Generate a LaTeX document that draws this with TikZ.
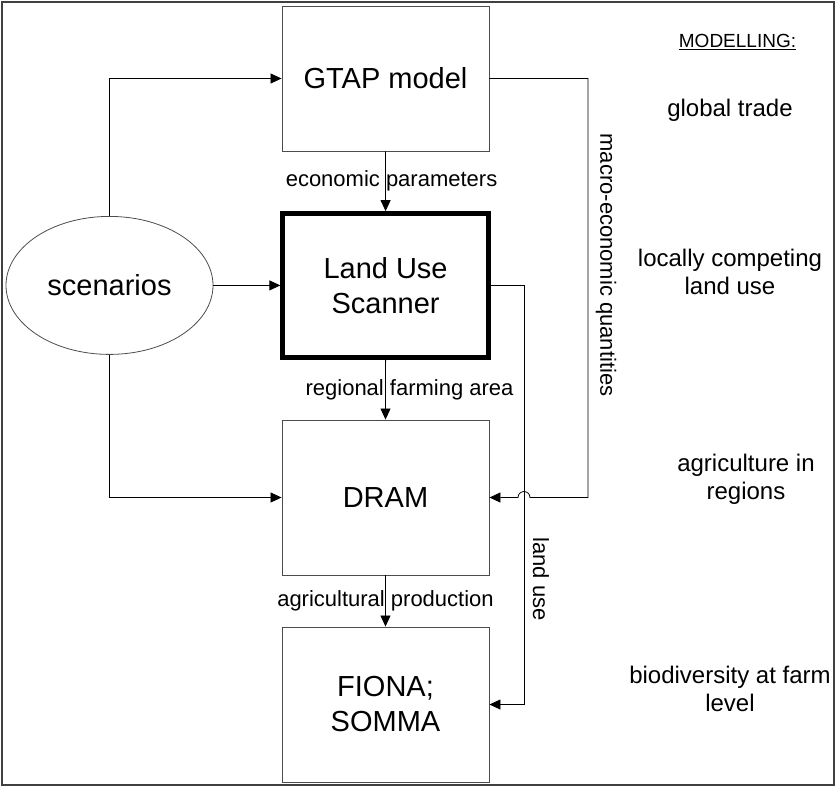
\documentclass[tikz,border=0pt]{standalone}
\usepackage{fontspec}
\setmainfont{Liberation Sans}
\usetikzlibrary{arrows.meta,shapes.geometric}

\begin{document}
\begin{tikzpicture}[x=1pt, y=-1pt]
\tikzstyle{box}=[draw=black!70, line width=0.9pt, rectangle, inner sep=0pt, minimum width=207pt, minimum height=145pt, align=center, font=\fontsize{29}{35}\selectfont]
\tikzstyle{lbl}=[font=\fontsize{22}{26}\selectfont, inner sep=0pt]
\tikzstyle{side}=[font=\fontsize{24}{28}\selectfont, align=center, inner sep=0pt]
\tikzstyle{arr}=[-{Triangle[length=11pt,width=10pt]}, line width=0.8pt]

\useasboundingbox (0,0) rectangle (836,788);
\draw[black!75, line width=2pt] (2,2) rectangle (834,785);

\node[box](gtap)   at (385.5, 78.5) {GTAP model};
\node[box, draw=black, line width=4.5pt, minimum width=206pt, minimum height=144pt](lus) at (385.6, 285.4) {Land Use\\Scanner};
\node[box, minimum height=155pt](dram)  at (385.5, 497.5) {DRAM};
\node[box, minimum height=155pt](fiona) at (385.5, 704.5) {FIONA;\\SOMMA};
\node[draw=black!70, line width=0.8pt, ellipse, inner sep=0pt, minimum width=207pt, minimum height=138pt, font=\fontsize{29}{35}\selectfont](scen) at (109.5, 285.4) {scenarios};

\coordinate (mq) at (588, 0);
\coordinate (lu) at (524, 0);
\coordinate (hop) at (lu |- dram.east);

\draw[arr] (scen.north) |- (gtap.west);
\draw[arr] (scen.east)  -- (lus.west);
\draw[arr] (scen.south) |- (dram.west);
\draw[arr] (gtap.south) -- node[lbl, xshift=6pt]  {economic parameters} (lus.north);
\draw[arr] (lus.south)  -- node[lbl, xshift=24pt] {regional farming area} (dram.north);
\draw[arr] (dram.south) -- node[lbl]              {agricultural production} (fiona.north);
\draw[arr] (lus.east) -| (lu |- fiona.east) -- (fiona.east);
\draw[arr] (gtap.east) -| (mq |- dram.east) -- ([xshift=6pt]hop) arc[start angle=0, end angle=180, radius=6pt] -- (dram.east);

\node[lbl, rotate=-90](mqlbl) at (606, 265) {macro-economic quantities};
\node[lbl, rotate=-90](lulbl) at (541, 579) {land use};

\node[font=\fontsize{19}{23}\selectfont, inner sep=0pt](mod) at (737.5, 42) {\underline{MODELLING:}};
\node[side](glob) at (730, 110)   {global trade};
\node[side](loc)  at (730, 272)   {locally competing\\land use};
\node[side](agri) at (746, 479)   {agriculture in\\regions};
\node[side](bio)  at (730, 688.5) {biodiversity at farm\\level};
\end{tikzpicture}
\end{document}
